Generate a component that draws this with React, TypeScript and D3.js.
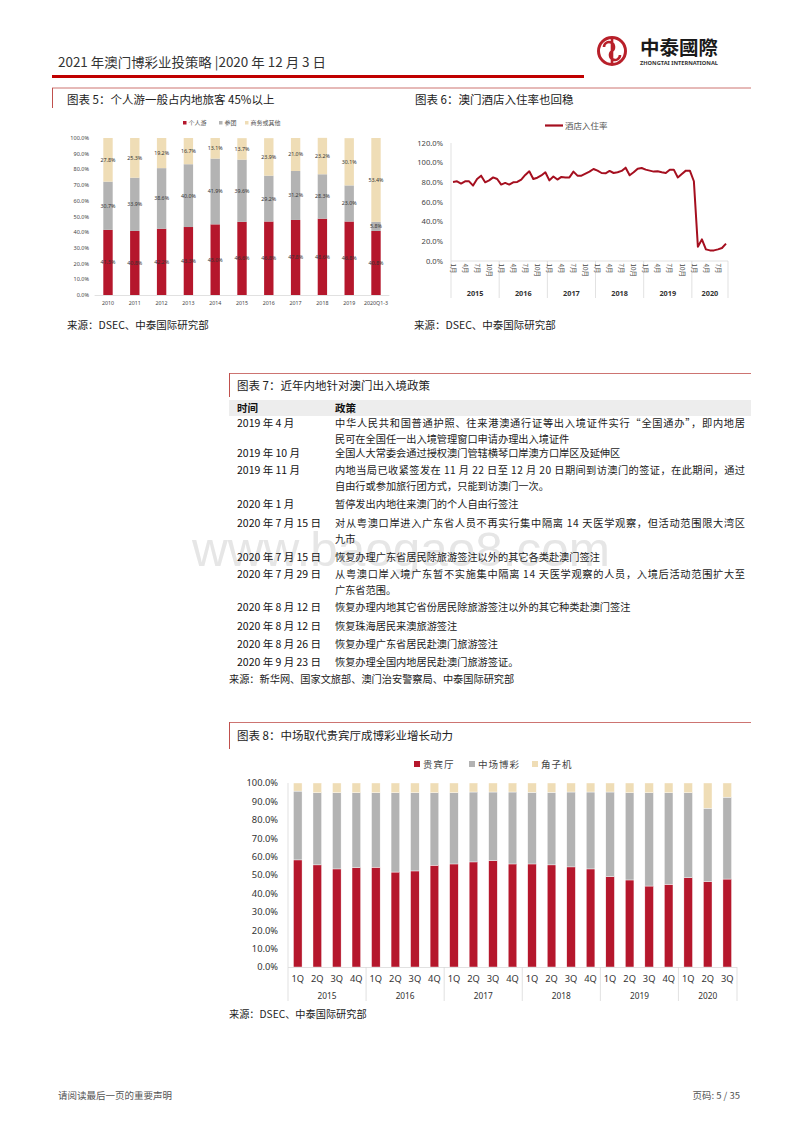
import React from 'react';
import * as d3 from 'd3';

const FONT = '"Noto Sans CJK SC", "Noto Sans", sans-serif';
const LATIN = '"Noto Sans", "Liberation Sans", sans-serif';
const RED = '#B5172C';
const GRAY = '#B3B3B3';
const TAN = '#EFDDB6';
const LINE_RED = '#A50F1F';
const BOX_RED = '#C0504D';
const AXIS = '#D9D9D9';

// 图表 5
const years5 = ['2010', '2011', '2012', '2013', '2014', '2015', '2016', '2017', '2018', '2019', '2020Q1-3'];
const indiv5 = [41.5, 40.8, 42.2, 43.3, 45.0, 46.6, 46.8, 47.8, 48.6, 46.8, 40.8];
const group5 = [30.7, 33.9, 38.6, 40.0, 41.9, 39.6, 29.2, 31.2, 28.3, 23.0, 5.8];
const other5 = [27.8, 25.3, 19.2, 16.7, 13.1, 13.7, 23.9, 21.0, 23.2, 30.1, 53.4];
const legend5 = ['个人游', '参团', '商务或其他'];

// 图表 6
const hotelYears = ['2015', '2016', '2017', '2018', '2019', '2020'];
const hotelMonthsPerYear = [12, 12, 12, 12, 12, 9];
const hotelRate = [
  80.4, 81.0, 78.7, 81.0, 81.0, 76.7, 83.4, 86.8, 80.0, 82.0, 85.0, 83.4,
  77.7, 79.4, 77.7, 80.0, 80.4, 82.8, 87.5, 91.2, 83.4, 84.7, 87.0, 90.2,
  82.0, 86.0, 82.8, 85.5, 85.0, 85.0, 90.9, 86.8, 86.8, 88.9, 90.9, 93.6,
  91.9, 89.5, 89.2, 91.6, 89.5, 90.2, 91.6, 94.9, 87.2, 90.2, 93.9, 94.6,
  92.9, 91.9, 90.9, 91.2, 90.2, 89.5, 92.9, 92.9, 85.0, 88.5, 91.9, 91.9,
  81.1, 14.5, 22.0, 11.8, 10.8, 10.8, 11.8, 13.2, 17.6,
];

// 图表 7
const policyRows: [string, string[]][] = [
  ['2019 年 4 月', ['中华人民共和国普通护照、往来港澳通行证等出入境证件实行“全国通办”，即内地居', '民可在全国任一出入境管理窗口申请办理出入境证件']],
  ['2019 年 10 月', ['全国人大常委会通过授权澳门管辖横琴口岸澳方口岸区及延伸区']],
  ['2019 年 11 月', ['内地当局已收紧签发在 11 月 22 日至 12 月 20 日期间到访澳门的签证，在此期间，通过', '自由行或参加旅行团方式，只能到访澳门一次。']],
  ['2020 年 1 月', ['暂停发出内地往来澳门的个人自由行签注']],
  ['2020 年 7 月 15 日', ['对从粤澳口岸进入广东省人员不再实行集中隔离 14 天医学观察，但活动范围限大湾区', '九市']],
  ['2020 年 7 月 15 日', ['恢复办理广东省居民除旅游签注以外的其它各类赴澳门签注']],
  ['2020 年 7 月 29 日', ['从粤澳口岸入境广东暂不实施集中隔离 14 天医学观察的人员，入境后活动范围扩大至', '广东省范围。']],
  ['2020 年 8 月 12 日', ['恢复办理内地其它省份居民除旅游签注以外的其它种类赴澳门签注']],
  ['2020 年 8 月 12 日', ['恢复珠海居民来澳旅游签注']],
  ['2020 年 8 月 26 日', ['恢复办理广东省居民赴澳门旅游签注']],
  ['2020 年 9 月 23 日', ['恢复办理全国内地居民赴澳门旅游签证。']],
];
const rowY = [423, 453, 470, 504, 523, 557, 574, 607, 626, 644, 662];

// 图表 8
const quarterYears = ['2015', '2016', '2017', '2018', '2019', '2020'];
const quartersPerYear = [4, 4, 4, 4, 4, 3];
const vipShare = [58.2, 55.5, 53.3, 54.0, 54.2, 51.6, 52.2, 55.3, 56.0, 57.1, 57.8, 56.0, 56.0, 55.5, 54.4, 53.3, 49.1, 47.3, 44.0, 44.9, 48.5, 46.4, 47.8];
const massShare = [37.4, 39.2, 41.4, 40.7, 40.5, 43.1, 42.5, 39.4, 38.7, 38.0, 37.3, 39.1, 38.9, 39.4, 40.7, 41.8, 46.0, 47.4, 50.7, 49.8, 46.2, 39.9, 44.5];
const slotShare = [4.4, 5.3, 5.3, 5.3, 5.3, 5.3, 5.3, 5.3, 5.3, 4.9, 4.9, 4.9, 5.1, 5.1, 4.9, 4.9, 4.9, 5.3, 5.3, 5.3, 5.3, 13.7, 7.7];
const legend8 = ['贵宾厅', '中场博彩', '角子机'];

const pct = (v: number) => `${v.toFixed(1)}%`;

function Header() {
  return (
    <g fontFamily={FONT}>
      <text x={58} y={67} fontSize={13} fill="#333" textLength={268} lengthAdjust="spacingAndGlyphs">
        2021 年澳门博彩业投策略 |2020 年 12 月 3 日
      </text>
      <rect x={52} y={75} width={532} height={3} fill="#C00000" />
      <circle cx={612} cy={51} r={13.5} fill="none" stroke="#B8202A" strokeWidth={3} />
      <path d="M612,38 L612,64 M604,47 a5,5 0 1,1 8,4 a5,5 0 1,0 8,4" fill="none" stroke="#B8202A" strokeWidth={2.6} />
      <text x={640} y={55} fontSize={19.5} fontWeight={700} fill="#1a1a1a">中泰國際</text>
      <text x={640} y={65} fontSize={5} fontWeight={700} fontFamily={LATIN} fill="#333" textLength={78} lengthAdjust="spacingAndGlyphs">ZHONGTAI INTERNATIONAL</text>
      <line x1={52} x2={751} y1={88} y2={88} stroke={BOX_RED} strokeWidth={0.8} />
      <line x1={52.5} x2={52.5} y1={88} y2={108} stroke={BOX_RED} strokeWidth={1} />
    </g>
  );
}

function Chart5() {
  const x = d3.scaleBand<string>().domain(years5).range([94.6, 389.4]).paddingInner(0.65).paddingOuter(0.325);
  const y = d3.scaleLinear().domain([0, 100]).range([295, 138]);
  const rows = years5.map((yr, i) => ({ yr, a: indiv5[i], b: group5[i], c: other5[i] }));
  const series = d3.stack<any>().keys(['a', 'b', 'c'])(rows);
  const colors = [RED, GRAY, TAN];
  const legendX = [183, 219, 245];
  return (
    <g fontFamily={FONT}>
      <text x={67} y={104} fontSize={11.5} fill="#222">图表 5：个人游一般占内地旅客 45%以上</text>
      {legend5.map((l, i) => (
        <g key={l}>
          <rect x={legendX[i]} y={121} width={3.5} height={3.5} fill={colors[i]} />
          <text x={legendX[i] + 5.5} y={125} fontSize={6} fill="#555">{l}</text>
        </g>
      ))}
      {y.ticks(10).map(t => (
        <text key={t} x={89} y={y(t) + 2} fontSize={5.5} fontFamily={LATIN} textAnchor="end" fill="#444">{pct(t)}</text>
      ))}
      {series.map((s, k) => (
        <g key={k}>
          {s.map((d, i) => (
            <g key={i}>
              <rect x={x(years5[i])} width={x.bandwidth()} y={y(d[1])} height={y(d[0]) - y(d[1])} fill={colors[k]} />
              <text x={(x(years5[i]) as number) + x.bandwidth() / 2} y={y((d[0] + d[1]) / 2) + 2} fontSize={5.3} fontFamily={LATIN} textAnchor="middle" fill="#333">
                {pct(d[1] - d[0])}
              </text>
            </g>
          ))}
        </g>
      ))}
      <line x1={94.6} x2={389.4} y1={295.5} y2={295.5} stroke={AXIS} strokeWidth={0.8} />
      {years5.map(yr => (
        <text key={yr} x={(x(yr) as number) + x.bandwidth() / 2} y={305} fontSize={5.3} fontFamily={LATIN} textAnchor="middle" fill="#444">{yr}</text>
      ))}
      <text x={67} y={329} fontSize={10.5} fill="#222">来源：DSEC、中泰国际研究部</text>
    </g>
  );
}

function Chart6() {
  const months: string[] = [];
  hotelYears.forEach((yr, yi) => {
    for (let m = 1; m <= hotelMonthsPerYear[yi]; m++) months.push(`${yr}-${m}`);
  });
  const x = d3.scaleBand<string>().domain(months).range([451, 728]);
  const y = d3.scaleLinear().domain([0, 120]).range([261, 143]);
  const cx = (k: string) => (x(k) as number) + x.bandwidth() / 2;
  const line = d3.line<number>().x((_, i) => cx(months[i])).y(d => y(d));
  let start = 0;
  const groups = hotelYears.map((yr, yi) => {
    const g = { yr, x0: x(months[start]) as number, x1: (x(months[start]) as number) + hotelMonthsPerYear[yi] * x.step() };
    start += hotelMonthsPerYear[yi];
    return g;
  });
  return (
    <g fontFamily={FONT}>
      <text x={415} y={104} fontSize={11.5} fill="#222">图表 6：澳门酒店入住率也回稳</text>
      <line x1={545} x2={563} y1={125.5} y2={125.5} stroke={LINE_RED} strokeWidth={2.2} />
      <text x={565} y={128.5} fontSize={8.5} fill="#595959">酒店入住率</text>
      {y.ticks(6).map(t => (
        <text key={t} x={443} y={y(t) + 2.8} fontSize={7.6} fontFamily={LATIN} textAnchor="end" fill="#444">{pct(t)}</text>
      ))}
      <line x1={451} x2={451} y1={143} y2={298} stroke={AXIS} strokeWidth={0.8} />
      <line x1={451} x2={728} y1={261} y2={261} stroke={AXIS} strokeWidth={0.8} />
      {groups.map(g => (
        <g key={g.yr}>
          <line x1={g.x1} x2={g.x1} y1={261} y2={298} stroke={AXIS} strokeWidth={0.8} />
          <text x={(g.x0 + g.x1) / 2} y={295.5} fontSize={7.3} fontWeight={700} fontFamily={LATIN} textAnchor="middle" fill="#333">{g.yr}</text>
        </g>
      ))}
      {months.map(k => {
        const m = +k.split('-')[1];
        if ((m - 1) % 3 !== 0) return null;
        return (
          <text key={k} transform={`translate(${cx(k) - 2.3},263.5) rotate(90)`} fontSize={6.3} fill="#444">{`${m}月`}</text>
        );
      })}
      <path d={line(hotelRate) as string} fill="none" stroke={LINE_RED} strokeWidth={2} strokeLinejoin="round" />
      <text x={414} y={329} fontSize={10.5} fill="#222">来源：DSEC、中泰国际研究部</text>
    </g>
  );
}

function PolicyTable() {
  return (
    <g fontFamily={FONT}>
      <line x1={229} x2={751} y1={373.5} y2={373.5} stroke={BOX_RED} strokeWidth={0.8} />
      <line x1={229.5} x2={229.5} y1={373} y2={397} stroke={BOX_RED} strokeWidth={1} />
      <text x={237} y={389.5} fontSize={11.5} fill="#222">图表 7：近年内地针对澳门出入境政策</text>
      <text x={192} y={566} fontSize={49} fontFamily="'Liberation Sans', Arial, sans-serif" fill="#E6E6E6" textLength={418} lengthAdjust="spacingAndGlyphs">www.baogao8.com</text>
      <rect x={229} y={400} width={522} height={16} fill="#EDEDED" />
      <text x={237} y={412} fontSize={10.5} fontWeight={700} fill="#111">时间</text>
      <text x={335} y={412} fontSize={10.5} fontWeight={700} fill="#111">政策</text>
      {policyRows.map(([date, lines], i) => (
        <g key={i}>
          <text x={237} y={rowY[i] + 4} fontSize={10.5} fill="#111">{date}</text>
          {lines.map((l, j) => (
            <text key={j} x={335} y={rowY[i] + 4 + j * 15.5} fontSize={10.2} fill="#222"
              {...(lines.length > 1 && j === 0 ? { textLength: 410, lengthAdjust: 'spacing' } : {})}>
              {l}
            </text>
          ))}
        </g>
      ))}
      <text x={229} y={683} fontSize={10.2} fill="#222">来源：新华网、国家文旅部、澳门治安警察局、中泰国际研究部</text>
    </g>
  );
}

function Chart8() {
  const quarters: string[] = [];
  quarterYears.forEach((yr, yi) => {
    for (let q = 1; q <= quartersPerYear[yi]; q++) quarters.push(`${yr}-${q}Q`);
  });
  const x = d3.scaleBand<string>().domain(quarters).range([288, 737]).paddingInner(0.56).paddingOuter(0.28);
  const y = d3.scaleLinear().domain([0, 100]).range([967, 783]);
  const rows = quarters.map((q, i) => ({ q, a: vipShare[i], b: massShare[i], c: slotShare[i] }));
  const series = d3.stack<any>().keys(['a', 'b', 'c'])(rows);
  const colors = [RED, GRAY, TAN];
  const legendX = [414, 469, 532];
  let start = 0;
  const groups = quarterYears.map((yr, yi) => {
    const x0 = 288 + start * x.step();
    start += quartersPerYear[yi];
    return { yr, x0, x1: 288 + start * x.step() };
  });
  return (
    <g fontFamily={FONT}>
      <line x1={229} x2={751} y1={722.5} y2={722.5} stroke={BOX_RED} strokeWidth={0.8} />
      <line x1={229.5} x2={229.5} y1={722} y2={749} stroke={BOX_RED} strokeWidth={1} />
      <text x={237} y={740} fontSize={11.5} fill="#222">图表 8：中场取代贵宾厅成博彩业增长动力</text>
      {legend8.map((l, i) => (
        <g key={l}>
          <rect x={legendX[i]} y={761} width={6} height={6} fill={colors[i]} />
          <text x={legendX[i] + 9} y={767.5} fontSize={9.5} letterSpacing={1} fill="#444">{l}</text>
        </g>
      ))}
      {y.ticks(10).map(t => (
        <text key={t} x={278} y={y(t) + 3.3} fontSize={9.3} fontFamily={LATIN} textAnchor="end" fill="#333">{pct(t)}</text>
      ))}
      {series.map((s, k) => (
        <g key={k}>
          {s.map((d, i) => (
            <rect key={i} x={x(quarters[i])} width={x.bandwidth()} y={y(d[1])} height={y(d[0]) - y(d[1])}
              fill={colors[k]} stroke="#fff" strokeWidth={0.4} />
          ))}
        </g>
      ))}
      <line x1={288} x2={288} y1={783} y2={1001} stroke={AXIS} strokeWidth={0.8} />
      <line x1={288} x2={737} y1={967.5} y2={967.5} stroke={AXIS} strokeWidth={0.8} />
      {quarters.map(q => (
        <text key={q} x={(x(q) as number) + x.bandwidth() / 2} y={982} fontSize={9.3} fontFamily={LATIN} textAnchor="middle" fill="#333">{q.split('-')[1]}</text>
      ))}
      {groups.map(g => (
        <g key={g.yr}>
          <line x1={g.x1} x2={g.x1} y1={967} y2={1001} stroke={AXIS} strokeWidth={0.8} />
          <text x={(g.x0 + g.x1) / 2} y={999} fontSize={8.3} fontFamily={LATIN} textAnchor="middle" fill="#333">{g.yr}</text>
        </g>
      ))}
      <text x={229} y={1018} fontSize={10.2} fill="#222">来源：DSEC、中泰国际研究部</text>
    </g>
  );
}

function Footer() {
  return (
    <g fontFamily={FONT}>
      <text x={58} y={1099} fontSize={9.5} fill="#555">请阅读最后一页的重要声明</text>
      <text x={740} y={1099} fontSize={9.5} textAnchor="end" fill="#555">页码: 5 / 35</text>
    </g>
  );
}

export default function App() {
  return (
    <svg width={800} height={1132} viewBox="0 0 800 1132"
      style={{ position: 'absolute', left: 0, top: 0, background: '#fff' }}>
      <rect width={800} height={1132} fill="#fff" />
      <Header />
      <Chart5 />
      <Chart6 />
      <PolicyTable />
      <Chart8 />
      <Footer />
    </svg>
  );
}
